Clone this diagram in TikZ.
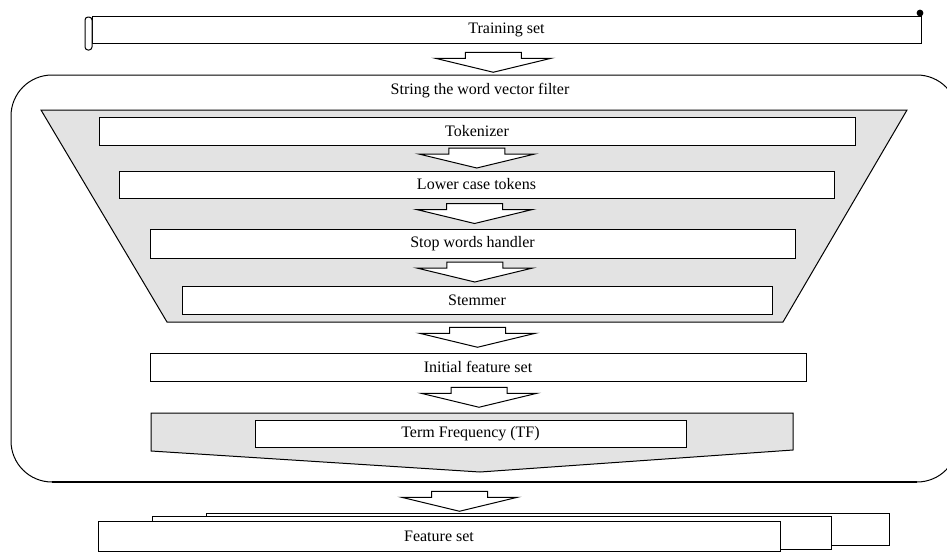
\documentclass[tikz,border=0pt]{standalone}
\usepackage{fontspec}
\setmainfont{Liberation Serif}
\usetikzlibrary{calc}
\definecolor{funnelgray}{HTML}{E3E3E3}
\tikzset{
  box/.style={draw, line width=1pt, fill=white, inner sep=0pt, font=\fontsize{16}{18}\selectfont},
  shade/.style={draw, line width=1pt, fill=funnelgray, line join=miter},
  barrow/.pic={\draw[line width=1pt, fill=white, line join=miter]
     (-28,-10) -- (28,-10) -- (28,-4) -- (58,-4) -- (0,10) -- (-58,-4) -- (-28,-4) -- cycle;},
  lbl/.style={inner sep=0pt, font=\fontsize{16}{18}\selectfont}
}
\begin{document}
\begin{tikzpicture}[x=1pt,y=-1pt]
\useasboundingbox (0,0) rectangle (947,552);
% training set scroll
\node[box, minimum width=829pt, minimum height=27pt] (train) at (506.5,29.5) {Training set};
\draw[line width=1pt, fill=white, rounded corners=3pt] (85,17) rectangle (92,50);
\draw[line width=1pt] (921,43) -- (921,13);
\fill (920,13) circle (3.4pt);
% filter container
\draw[line width=1pt, rounded corners=41pt] (11,482) -- (11,75) -- (958,75) -- (958,482) -- cycle;
\draw[line width=2.8pt] (52,482) -- (917,482);
\node[lbl] (filt) at (480,91) {String the word vector filter};
% funnel
\draw[shade] (41,110) -- (907,110) -- (783,322) -- (167,322) -- cycle;
\node[box, minimum width=756pt, minimum height=28pt] (tok) at (477,131) {Tokenizer};
\node[box, minimum width=715pt, minimum height=27pt] (low) at (476.5,184.5) {Lower case tokens};
\node[box, minimum width=645pt, minimum height=29pt] (stop) at (472.5,243.5) {Stop words handler};
\node[box, minimum width=590pt, minimum height=28pt] (stem) at (477,300) {Stemmer};
\coordinate (funbot) at (477,322);
\node[box, minimum width=656pt, minimum height=28pt] (init) at (478,367) {Initial feature set};
% TF pentagon
\draw[shade] (151,413) -- (793,413) -- (793,450) -- (480,472) -- (151,451) -- cycle;
\coordinate (pentop) at (480,413);
\node[box, minimum width=431pt, minimum height=27pt] (tf) at (470.5,433.5) {Term Frequency (TF)};
% feature set stack
\draw[line width=1pt, fill=white] (206,513) rectangle (889,545);
\draw[line width=1pt, fill=white] (152,516) rectangle (831,549);
\node[box, minimum width=682pt, minimum height=30pt] (feat) at (439,536) {Feature set};
\coordinate (filtbot) at (480,482);
\coordinate (filttop) at (480,81);
% block arrows
\pic at ($(train.south)!0.5!(filttop)$) {barrow};
\pic at ($(tok.south)!0.5!(low.north)$) {barrow};
\pic at ($(low.south)!0.5!(stop.north)$) {barrow};
\pic at ($(stop.south)!0.5!(stem.north)$) {barrow};
\pic at ($(funbot)!0.5!(init.north)$) {barrow};
\pic at ($(init.south)!0.5!(pentop)$) {barrow};
\pic at ($(filtbot)!0.5!(feat.north)$) {barrow};
\end{tikzpicture}
\end{document}
